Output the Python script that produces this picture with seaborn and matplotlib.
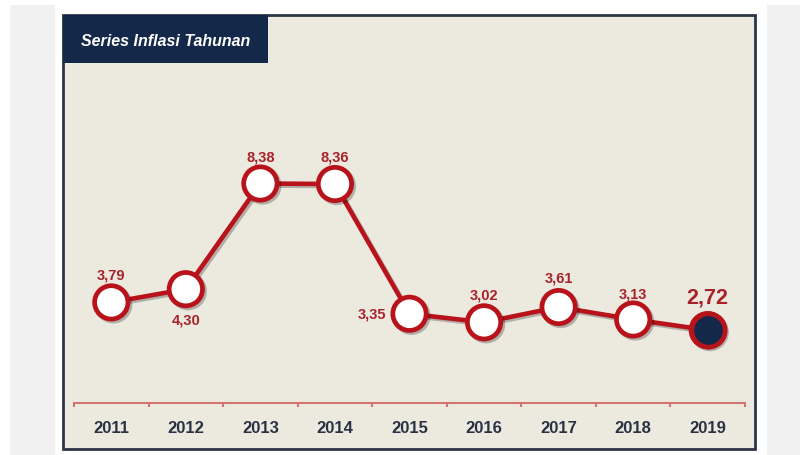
import matplotlib
matplotlib.use("Agg")
import matplotlib.pyplot as plt
import matplotlib.patheffects as pe
from matplotlib.patches import Rectangle
import seaborn as sns
import pandas as pd

years = ["2011", "2012", "2013", "2014", "2015", "2016", "2017", "2018", "2019"]
inflation = [3.79, 4.30, 8.38, 8.36, 3.35, 3.02, 3.61, 3.13, 2.72]
value_labels = ["3,79", "4,30", "8,38", "8,36", "3,35", "3,02", "3,61", "3,13", "2,72"]
title_text = "Series Inflasi Tahunan"

df = pd.DataFrame({"year": years, "inflation": inflation})

sns.set_theme(style="white")
plt.rcParams["font.family"] = ["Liberation Sans Narrow", "Liberation Sans", "DejaVu Sans"]

W, H = 800, 456
fig = plt.figure(figsize=(8, 4.56), dpi=100)
fig.patch.set_facecolor("white")

def rect(x0, y0, x1, y1, **kw):
    # pixel coords from top-left
    r = Rectangle((x0 / W, 1 - y1 / H), (x1 - x0) / W, (y1 - y0) / H,
                  transform=fig.transFigure, **kw)
    fig.patches.append(r)
    return r

RED = "#b8131a"
TXT_RED = "#a8222a"
NAVY = "#14294a"
TXT_NAVY = "#2a3142"

# side strips
rect(10, 6, 55, 456, facecolor="#f2f1f1", edgecolor="none", zorder=0)
rect(767, 6, 800, 456, facecolor="#f2f1f1", edgecolor="none", zorder=0)
# chart panel
rect(63, 16, 755, 450, facecolor="#ece9df", edgecolor="#2c3646", linewidth=2, zorder=0.5)
# title tab
rect(63, 16, 268, 64, facecolor=NAVY, edgecolor="none", zorder=0.6)
fig.text(166 / W, 1 - 41 / H, title_text, color="white", fontsize=11.5,
         fontweight="bold", fontstyle="italic", ha="center", va="center", zorder=0.7)

ax_bottom_px, ax_top_px = 404, 84
ax = fig.add_axes([74 / W, 1 - ax_bottom_px / H, (745 - 74) / W, (ax_bottom_px - ax_top_px) / H])
ax.set_zorder(5)
ax.set_facecolor("none")
ax.patch.set_alpha(0)

px_per_unit = 25.9
ylo = 8.38 - (404 - 184.5) / px_per_unit
yhi = ylo + (ax_bottom_px - ax_top_px) / px_per_unit

shadow = [pe.SimpleLineShadow(offset=(1.5, -1.5), alpha=0.25, shadow_color="black"), pe.Normal()]

sns.lineplot(data=df, x="year", y="inflation", ax=ax, color=RED, linewidth=3.3,
             marker="o", markersize=24, markerfacecolor="white", markeredgecolor=RED,
             markeredgewidth=3.4, sort=False, path_effects=shadow, zorder=3)
last = df.iloc[[-1]]
sns.scatterplot(data=last, x="year", y="inflation", ax=ax, s=24 ** 2, color=NAVY,
                edgecolor=RED, linewidth=3.4, zorder=4)

ax.set_xlim(-0.5, len(years) - 0.5)
ax.set_ylim(ylo, yhi)

# value labels (offsets in points)
offsets = [(0, 20), (0, -22), (0, 19.5), (0, 19.5), (-27, 0), (0, 20), (0, 21.5), (0, 19), (0, 24)]
for i, (lab, v, (dx, dy)) in enumerate(zip(value_labels, inflation, offsets)):
    big = i == len(years) - 1
    ax.annotate(lab, (i, v), xytext=(dx, dy), textcoords="offset points",
                ha="center", va="center", color=TXT_RED, fontweight="bold",
                fontsize=15.5 if big else 10.5, zorder=5)

# axis styling
for s in ["top", "right", "left"]:
    ax.spines[s].set_visible(False)
ax.spines["bottom"].set_color("#d2776f")
ax.spines["bottom"].set_linewidth(1.5)
ax.set_yticks([])
ax.set_xticks([i - 0.5 for i in range(len(years) + 1)], minor=True)
ax.set_xticks(range(len(years)))
ax.set_xticklabels(years)
ax.tick_params(axis="x", which="major", length=0, pad=12, labelsize=12, labelcolor=TXT_NAVY)
ax.tick_params(axis="x", which="minor", length=3, width=1.5, color="#d2776f", bottom=True)
for t in ax.get_xticklabels():
    t.set_fontweight("bold")
ax.set_xlabel("")
ax.set_ylabel("")

fig.savefig("out.png", dpi=100, facecolor="white")
